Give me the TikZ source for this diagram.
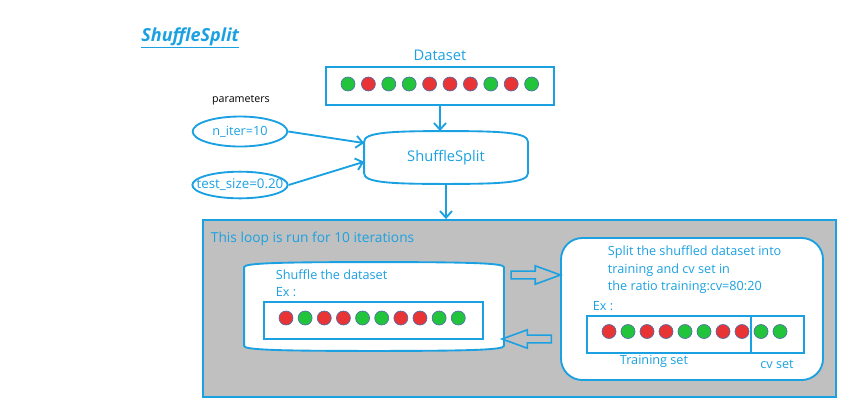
\documentclass[tikz,border=0pt]{standalone}
\usepackage{fontspec}
\setmainfont{Open Sans}
\usetikzlibrary{arrows.meta,positioning,calc,shapes.geometric,shapes.arrows}
\definecolor{skyline}{RGB}{27,161,226}
\definecolor{loopgray}{RGB}{192,192,192}
\definecolor{dotgreen}{RGB}{34,196,60}
\definecolor{dotred}{RGB}{232,52,52}
\definecolor{dotrim}{RGB}{80,110,170}

\begin{document}
\begin{tikzpicture}[
  x=0.75pt, y=-0.75pt,
  >={Straight Barb[length=5pt,width=9pt]},
  line width=1.4pt,
  every node/.style={text=skyline},
  box/.style={draw=skyline, line width=1.4pt, inner sep=0pt},
  dot/.style={circle, draw=dotrim, line width=0.5pt, minimum size=10.5pt, inner sep=0pt},
  param/.style={ellipse, draw=skyline, line width=1.4pt, minimum width=71pt, minimum height=21pt,
    inner xsep=-9pt, inner ysep=0pt, font=\fontsize{9.5}{11}\selectfont},
  lab/.style={font=\fontsize{9.5}{11.5}\selectfont, inner sep=0pt},
  flow/.style={->, draw=skyline, line width=1.4pt},
  swap/.style={single arrow, draw=skyline, line width=1.2pt, inner xsep=0pt, inner ysep=2.3pt,
    minimum height=37pt, single arrow head extend=4pt, single arrow tip angle=40}
]
\useasboundingbox (0,0) rectangle (862,408);

\node[anchor=west, font=\fontsize{13.5}{15}\selectfont\bfseries\itshape] (title) at (136,38) {\underline{ShuffleSplit}};

\node[box, minimum width=171pt, minimum height=29pt] (dsbox) at (440,86) {};
\node[above=3pt of dsbox, inner sep=0pt, font=\fontsize{11}{13}\selectfont] (dstitle) {Dataset};
\foreach \c [count=\i] in {green,red,green,green,red,red,red,green,red,green}
  \node[dot, fill=dot\c] (ds\i) at ({348+(\i-1)*20.4},84) {};

\node[text=black, font=\fontsize{8}{10}\selectfont] (params) at (241,100) {parameters};
\node[param, minimum height=22.5pt] (niter) at (240,131.5) {n\_iter=10};
\node[param, minimum width=71.5pt, minimum height=20pt, inner xsep=-10pt, font=\fontsize{10}{11}\selectfont] (tsize) at (240,185) {test\_size=0.20};

\node[minimum width=121.5pt, minimum height=38.25pt, font=\fontsize{11}{13}\selectfont] (split) at (446,157.5) {ShuffleSplit};
\draw[box] (split.north) .. controls +(-42pt,0) and +(0,7pt) .. ([yshift=-8pt]split.north west)
  -- ([yshift=8pt]split.south west) .. controls +(0,-7pt) and +(-42pt,0) .. (split.south)
  .. controls +(42pt,0) and +(0,-7pt) .. ([yshift=8pt]split.south east)
  -- ([yshift=-8pt]split.north east) .. controls +(0,7pt) and +(42pt,0) .. (split.north) -- cycle;

\draw[flow] (dsbox.south) -- (dsbox.south |- split.north);
\draw[flow] (niter.east) -- (split.170);
\draw[flow] (tsize.east) -- (split.183);

\node[box, fill=loopgray, minimum width=474.75pt, minimum height=132.75pt] (loop) at (519.5,308.5) {};
\draw[flow] (split.south) -- (split.south |- loop.north);
\node[anchor=west, font=\fontsize{10.3}{12}\selectfont, inner sep=0pt] (looptext) at (210,238.5) {This loop is run for 10 iterations};

% shuffle step
\node[minimum width=193.5pt, minimum height=65.25pt] (shuf) at (374,306.5) {};
\draw[box, fill=white] (shuf.north) .. controls +(-70pt,0) and +(0,3pt) .. ([yshift=-3.75pt]shuf.north west)
  -- ([yshift=3.75pt]shuf.south west) .. controls +(0,-3pt) and +(-70pt,0) .. (shuf.south)
  .. controls +(70pt,0) and +(0,-3pt) .. ([yshift=3.75pt]shuf.south east)
  -- ([yshift=-3.75pt]shuf.north east) .. controls +(0,3pt) and +(70pt,0) .. (shuf.north) -- cycle;
\node[lab, anchor=west] (shuftext) at (275,275) {Shuffle the dataset};
\node[lab, anchor=west] (shufex) at (275,292) {Ex :};
\node[box, minimum width=164.25pt, minimum height=27.75pt] (shufrow) at (373.5,320.5) {};
\foreach \c [count=\i] in {red,green,red,red,green,green,red,red,green,green}
  \node[dot, fill=dot\c] (sh\i) at ({286+(\i-1)*19.14},318) {};

% split step
\node[box, fill=white, rounded corners=16pt, minimum width=196.5pt, minimum height=106.5pt] (splitbox) at (692,309) {};
\node[lab, anchor=west] (splittext1) at (607,252.5) {Split the shuffled dataset into};
\node[lab, anchor=west] (splittext2) at (607,270) {training and cv set in};
\node[lab, anchor=west] (splittext3) at (607,287.5) {the ratio training:cv=80:20};
\node[lab, anchor=west] (splitex) at (592,306.5) {Ex :};
\node[box, minimum width=162.75pt, minimum height=27.75pt] (cvrow) at (695.5,334.5) {};
\coordinate (cvdiv) at (751,0);
\draw[draw=skyline] (cvdiv |- cvrow.north) -- (cvdiv |- cvrow.south);
\foreach \c [count=\i] in {red,green,red,red,green,green,red,red,green,green}
  \node[dot, fill=dot\c] (cv\i) at ({609+(\i-1)*19},331.5) {};
\node[lab] (trainlab) at (654,361.5) {Training set};
\node[lab] (cvlab) at (777,364) {cv set};

\node[swap] (toright) at (530.5,275) {};
\node[swap, shape border rotate=180] (toleft) at (532,339) {};
\end{tikzpicture}
\end{document}
